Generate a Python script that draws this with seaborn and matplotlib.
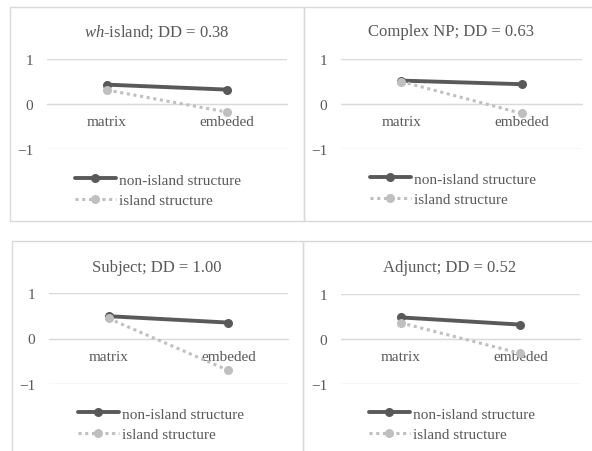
import pandas as pd
import seaborn as sns
import matplotlib.pyplot as plt
from matplotlib.patches import Rectangle

# data
positions = ["matrix", "embeded"]
titles = [r"$\it{wh}$-island; DD = 0.38", "Complex NP; DD = 0.63",
          "Subject; DD = 1.00", "Adjunct; DD = 0.52"]
non_island = [[0.43, 0.32], [0.52, 0.44], [0.49, 0.35], [0.48, 0.32]]
island = [[0.31, -0.18], [0.50, -0.21], [0.44, -0.70], [0.36, -0.32]]
series_names = ["non-island structure", "island structure"]
yticks = [-1, 0, 1]

sns.set_style("white")
plt.rcParams["font.family"] = ["Liberation Serif", "DejaVu Serif"]
plt.rcParams["mathtext.fontset"] = "custom"
plt.rcParams["mathtext.it"] = "Liberation Serif:italic"
plt.rcParams["mathtext.rm"] = "Liberation Serif"

TEXT = "#595959"
DARK = "#595959"
LIGHT = "#bfbfbf"
GRID = "#d9d9d9"
W, H = 592, 452

fig = plt.figure(figsize=(W / 100, H / 100), dpi=100)


def px_rect(x0, x1, y0, y1):
    # pixel box (top-left origin) -> figure fraction
    return [x0 / W, (H - y1) / H, (x1 - x0) / W, (y1 - y0) / H]


# panel frames, plot areas, title and legend centres (pixels)
frames = [(10, 304, 8, 222), (304, 640, 8, 222), (12, 303, 242, 480), (303, 640, 242, 480)]
plots = [(47, 287, 60, 150), (341, 582, 60, 150), (49, 288, 294, 385), (341, 580, 295, 385)]
title_pos = [(157, 32), (451, 32), (157, 268), (450, 268)]
legend_pos = [(158, 191), (453, 190), (161, 425), (452, 425)]

for x0, x1, y0, y1 in frames:
    r = px_rect(x0, x1, y0, y1)
    fig.patches.append(Rectangle((r[0], r[1]), r[2], r[3], transform=fig.transFigure,
                                 fill=False, edgecolor=GRID, linewidth=1))

for i in range(4):
    ax = fig.add_axes(px_rect(*plots[i]))
    df = pd.DataFrame({
        "position": positions * 2,
        "score": non_island[i] + island[i],
        "series": [series_names[0]] * 2 + [series_names[1]] * 2,
    })
    sns.lineplot(data=df[df.series == series_names[0]], x="position", y="score",
                 color=DARK, linewidth=2.8, marker="o", markersize=6.5,
                 markeredgewidth=0, label=series_names[0], ax=ax, zorder=3)
    sns.lineplot(data=df[df.series == series_names[1]], x="position", y="score",
                 color=LIGHT, linewidth=2.2, linestyle=(0, (1, 1.2)), marker="o",
                 markersize=6.5, markeredgewidth=0, label=series_names[1], ax=ax, zorder=4)

    ax.set_xlim(-0.5, 1.5)
    ax.set_ylim(-1, 1)
    ax.set_yticks(yticks)
    ax.yaxis.grid(True, color=GRID, linewidth=1)
    ax.set_axisbelow(True)
    for s in ["top", "left", "right"]:
        ax.spines[s].set_visible(False)
    ax.spines["bottom"].set_position(("data", 0))
    ax.spines["bottom"].set_color(GRID)
    ax.tick_params(axis="y", length=0, pad=10, labelsize=11, labelcolor=TEXT)
    ax.tick_params(axis="x", length=0, pad=8, labelsize=11, labelcolor=TEXT)
    ax.set_xlabel("")
    ax.set_ylabel("")
    ax.patch.set_alpha(0)

    tx, ty = title_pos[i]
    fig.text(tx / W, 1 - ty / H, titles[i], ha="center", va="center",
             fontsize=12, color=TEXT)

    lx, ly = legend_pos[i]
    ax.legend(loc="center", bbox_to_anchor=(lx / W, 1 - ly / H),
              bbox_transform=fig.transFigure, frameon=False, fontsize=11,
              labelcolor=TEXT, handlelength=2.7, handletextpad=0.2,
              labelspacing=0.45, borderpad=0)

fig.savefig("out.png", dpi=100)
